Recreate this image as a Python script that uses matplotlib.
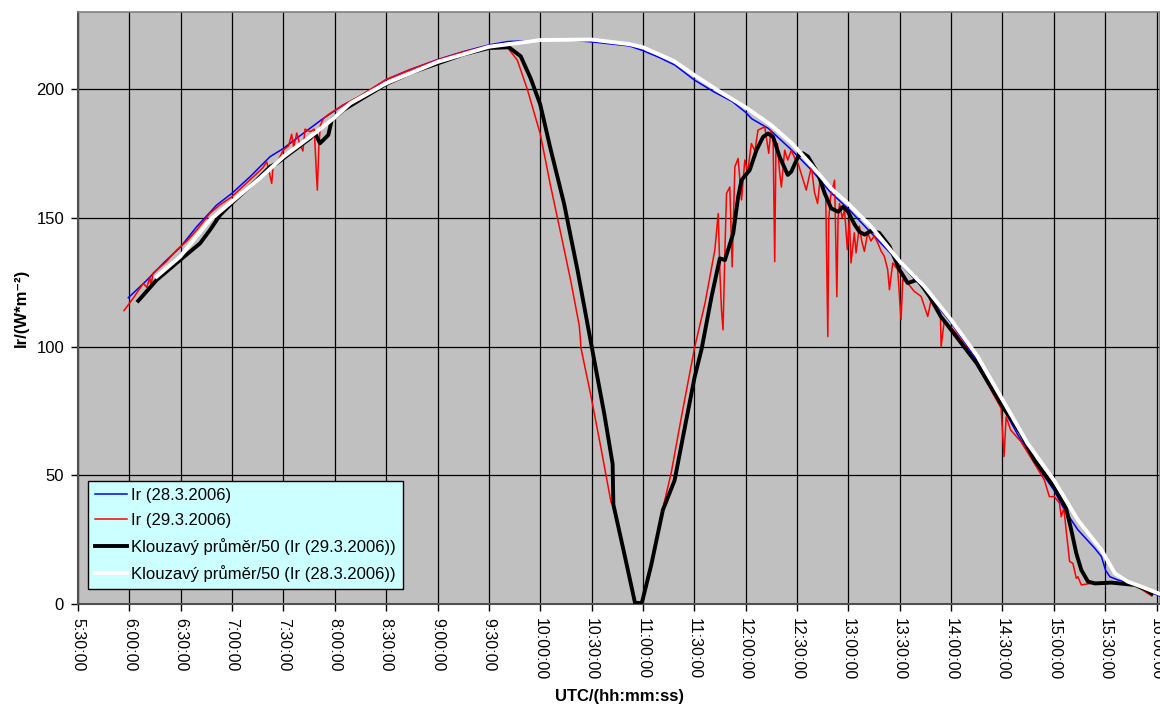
import matplotlib
matplotlib.use("Agg")
import matplotlib.pyplot as plt
from matplotlib.ticker import FixedLocator

plt.rcParams['font.family'] = ['Liberation Sans', 'DejaVu Sans']

# ---------------- data (time in decimal hours UTC, irradiance W/m2) ----------------
blue_t = [5.99, 6.155, 6.331, 6.5, 6.656, 6.85, 7.0, 7.175, 7.37, 7.5, 7.694, 7.89, 8.083,
          8.25, 8.5, 8.73, 9.0, 9.25, 9.5, 9.68, 10.0, 10.2, 10.5, 10.87, 11.0, 11.15, 11.31,
          11.5, 11.69, 11.87, 12.0, 12.06, 12.22, 12.45, 12.64, 12.83, 13.0, 13.25, 13.5,
          13.74, 14.0, 14.23, 14.5, 14.65, 14.81, 15.0, 15.105, 15.235, 15.4, 15.464, 15.503,
          15.546, 15.627, 15.79, 15.89, 16.05]
blue_v = [119, 125.2, 132.4, 138.8, 146.6, 155, 159.6, 166, 173.8, 177, 182.9, 188.7, 193.9,
          197.2, 203.7, 207.6, 211.5, 214.6, 217.2, 218.5, 219.1, 219.3, 218.4, 216.8, 215,
          212.5, 209.4, 203.6, 199, 195.2, 191, 188.5, 184.8, 176.3, 168.6, 159.8, 153.5, 143,
          132.5, 122.1, 109.3, 96.1, 76.6, 65.7, 55.3, 44.3, 36.5, 28.8, 21.6, 18.4, 13.2,
          10.6, 9.3, 7.8, 5.4, 2.8]

red_t = [5.948, 6.05, 6.136, 6.17, 6.2, 6.21, 6.23, 6.266, 6.36, 6.46, 6.56, 6.656, 6.785,
         6.88, 6.997, 7.1, 7.207, 7.3, 7.337, 7.36, 7.386, 7.40, 7.45, 7.5, 7.55, 7.58, 7.60,
         7.63, 7.66, 7.69, 7.71, 7.76, 7.80, 7.82, 7.83, 7.845, 7.86, 7.89, 7.95, 8.083, 8.25,
         8.5, 8.75, 9.0, 9.25, 9.5, 9.64, 9.679, 9.777, 9.875, 10.0, 10.10, 10.2, 10.298,
         10.38, 10.39, 10.396, 10.493, 10.59, 10.69, 10.712, 10.82, 10.917, 10.998, 11.08,
         11.19, 11.275, 11.373, 11.503, 11.604, 11.70, 11.733, 11.75, 11.765, 11.78, 11.80,
         11.814, 11.846, 11.869, 11.895, 11.927, 11.96, 11.992, 12.02, 12.056, 12.09, 12.12,
         12.186, 12.225, 12.245, 12.267, 12.283, 12.295, 12.31, 12.33, 12.348, 12.365, 12.38,
         12.41, 12.445, 12.48, 12.51, 12.55, 12.59, 12.64, 12.67, 12.70, 12.725, 12.752,
         12.78, 12.80, 12.81, 12.827, 12.866, 12.888, 12.90, 12.914, 12.94, 12.963, 12.99,
         13.01, 13.026, 13.058, 13.075, 13.107, 13.13, 13.156, 13.188, 13.22, 13.25, 13.286,
         13.32, 13.35, 13.383, 13.4, 13.432, 13.48, 13.513, 13.53, 13.578, 13.64, 13.708,
         13.773, 13.805, 13.85, 13.896, 13.903, 13.935, 14.0, 14.065, 14.162, 14.26, 14.39,
         14.487, 14.516, 14.536, 14.58, 14.68, 14.81, 14.908, 14.957, 15.006, 15.056, 15.072,
         15.098, 15.12, 15.154, 15.186, 15.219, 15.235, 15.268, 15.4, 15.627, 15.79, 15.889,
         15.954]
red_v = [114, 119.5, 124.6, 123, 127, 123.5, 128.5, 129.8, 133, 137.5, 141, 145.3, 151.8,
         155, 158.2, 162, 166, 169.5, 171.8, 168, 163.4, 170.5, 172.5, 176.4, 178, 182.5, 177.5,
         183, 178.5, 176, 184.5, 183.5, 184.5, 168, 160.8, 178, 186, 188.7, 190.5, 193.9, 197.5,
         203.8, 207.8, 211.4, 214.5, 216.8, 217.2, 216.3, 211.3, 199.9, 182.7, 162.6, 144, 125.4,
         108.2, 103.5, 99.6, 81, 60.9, 39.4, 38.7, 19.3, 0.7, 0.7, 15,
         36.5, 50.9, 72.3, 99.6, 116.8, 137.5, 151.7, 128, 114.2, 106.5, 140,
         159.5, 162, 131, 169.9, 173.1, 157, 172.5, 168, 178.9, 176, 184.1,
         185.4, 175.1, 184, 181.5, 133, 178, 178.9, 168, 162, 170, 176.3,
         172.5, 176.3, 173, 171.2, 166, 160.8, 169.9, 160, 155.6, 165, 163.4,
         158, 103.9, 150, 158.2, 164.7, 119.4, 150, 155.6, 150, 153, 137.7,
         149.4, 132.5, 144.2, 136.4, 146.8, 141, 137, 144.2, 141, 143, 140.3,
         137, 135.1, 129.9, 122.1, 132.5, 129.9, 110.4, 126, 124.7, 121.5, 119.5,
         111.7, 118, 115.5, 113, 100, 110.5, 107.5, 104.5, 99, 92.5, 83,
         76, 57.3, 72.7, 67.6, 63.1, 54.7, 48.2, 41.7, 41.7, 39.1, 33.9,
         37.2, 28.8, 16.5, 15.8, 10, 10.6, 7.4, 8.3, 8, 7.4, 4.8,
         3.1]

black_t = [6.087, 6.266, 6.493, 6.688, 6.785, 6.883, 7.012, 7.24, 7.37, 7.435, 7.564, 7.759,
           7.808, 7.856, 7.937, 7.97, 8.083, 8.25, 8.5, 8.75, 9.0, 9.25, 9.5, 9.695, 9.81,
           9.907, 10.0, 10.10, 10.233, 10.363, 10.503, 10.624, 10.705, 10.712, 10.82, 10.923,
           10.989, 11.08, 11.194, 11.308, 11.405, 11.503, 11.571, 11.668, 11.749, 11.798,
           11.879, 11.927, 11.96, 12.04, 12.105, 12.17, 12.218, 12.267, 12.33, 12.41, 12.445,
           12.51, 12.558, 12.607, 12.704, 12.77, 12.833, 12.9, 12.947, 12.994, 13.06, 13.11,
           13.16, 13.22, 13.3, 13.4, 13.497, 13.578, 13.675, 13.79, 13.9, 14.0, 14.25, 14.503,
           14.68, 14.81, 15.0, 15.12, 15.17, 15.219, 15.268, 15.333, 15.4, 15.562, 15.79,
           15.889, 15.954]
black_v = [117.8, 125.9, 133.6, 140.1, 145.3, 151.1, 156.3, 164.7, 169.9, 171.2, 175.1, 180.9,
           182.9, 179, 182.2, 188, 191.9, 196, 202, 206.5, 210, 213.5, 216, 216.3, 212.8,
           204.2, 194.1, 176.9, 155.4, 129.7, 99.6, 73.8, 54.4, 38.7, 19.3, 0.4,
           0.4, 15, 36.5, 48, 68, 88.1, 99, 119.4, 134.3, 133.6,
           144, 158.2, 164.7, 168.6, 176.3, 181.5, 182.8, 181.5, 173.8, 166.7, 168,
           173.8, 175.1, 173.8, 167.3, 159.5, 153.7, 152.4, 154.3, 152.6, 147.5, 144.5,
           143.5, 145, 144.2, 139, 129.9, 124.7, 126, 119.5, 111.7, 106.5, 93.5, 76.6,
           66.2, 56, 45.6, 37.2, 28.8, 19.7, 13.2, 8.7, 8, 8.3, 7.4,
           5.7, 4.1]

white_t = [6.266, 6.493, 6.785, 6.997, 7.27, 7.5, 7.76, 7.99, 8.15, 8.5, 9.0, 9.5, 10.0, 10.5,
           10.87, 11.0, 11.3, 11.5, 11.75, 12.0, 12.25, 12.45, 12.64, 12.83, 13.0, 13.22, 13.5,
           13.74, 14.0, 14.26, 14.503, 14.745, 15.0, 15.235, 15.464, 15.595, 15.72, 15.856,
           16.02]
white_v = [127.2, 134.9, 149.2, 156.3, 165.4, 173.8, 181.5, 188.7, 194.5, 202.3, 210.6, 216.5,
           219.1, 219.3, 217.5, 216.3, 211, 205.5, 199, 193, 186, 179, 170.5, 161.5, 155.5,
           146.7, 133.1, 123.4, 110.4, 96.1, 79.2, 62.4, 48.2, 32.6, 21, 11.9, 8.7, 6.7, 4.1]

labels = ["Ir (28.3.2006)", "Ir (29.3.2006)",
          "Klouzavý průměr/50 (Ir (29.3.2006))", "Klouzavý průměr/50 (Ir (28.3.2006))"]

x_ticks = [5.5 + 0.5 * i for i in range(22)]
x_ticklabels = [f"{int(t)}:{int(round((t % 1) * 60)):02d}:00" for t in x_ticks]
y_ticks = [0, 50, 100, 150, 200]

# ---------------- figure ----------------
fig = plt.figure(figsize=(11.6, 7.06), dpi=100)
ax = fig.add_axes([78 / 1160, 102 / 706, (1160 - 78) / 1160, (604 - 12) / 706])
ax.set_facecolor('#C0C0C0')

ax.plot(blue_t, blue_v, color='#0000FF', lw=1.1, label=labels[0], zorder=3)
ax.plot(red_t, red_v, color='#FF0000', lw=1.1, label=labels[1], zorder=4)
ax.plot(black_t, black_v, color='black', lw=2.8, label=labels[2], zorder=5)
ax.plot(white_t, white_v, color='white', lw=2.8, label=labels[3], zorder=6)

ax.set_xlim(5.5, 16.034)
ax.set_ylim(0, 230)
ax.xaxis.set_major_locator(FixedLocator(x_ticks))
ax.set_xticklabels(x_ticklabels, rotation=270, ha='center', va='top', fontsize=11.5)
ax.set_yticks(y_ticks)
ax.set_yticklabels([str(v) for v in y_ticks], fontsize=12)
ax.tick_params(axis='both', direction='out', length=5, width=1, color='black')
ax.tick_params(axis='y', pad=5)
ax.tick_params(axis='x', pad=5)

ax.grid(True, color='black', lw=0.9, zorder=1)
ax.set_axisbelow(True)

for s in ['top', 'right']:
    ax.spines[s].set_color('#808080')
    ax.spines[s].set_linewidth(1.2)
for s in ['left', 'bottom']:
    ax.spines[s].set_color('#505050')
    ax.spines[s].set_linewidth(1.5)

ax.set_xlabel("UTC/(hh:mm:ss)", fontsize=12, fontweight='bold', labelpad=6.5)
ax.set_ylabel("Ir/(W*m\u207b\u00b2)", fontsize=12, fontweight='bold', labelpad=5)

leg = ax.legend(loc='lower left', bbox_to_anchor=(0.0092, 0.0253), borderaxespad=0,
                fontsize=12, frameon=True, fancybox=False, framealpha=1,
                facecolor='#CCFFFF', edgecolor='black', handlelength=1.9,
                handletextpad=0.25, borderpad=0.42, labelspacing=0.6)
leg.get_frame().set_linewidth(1.0)
leg.set_zorder(10)

fig.savefig("out.png", dpi=100)
